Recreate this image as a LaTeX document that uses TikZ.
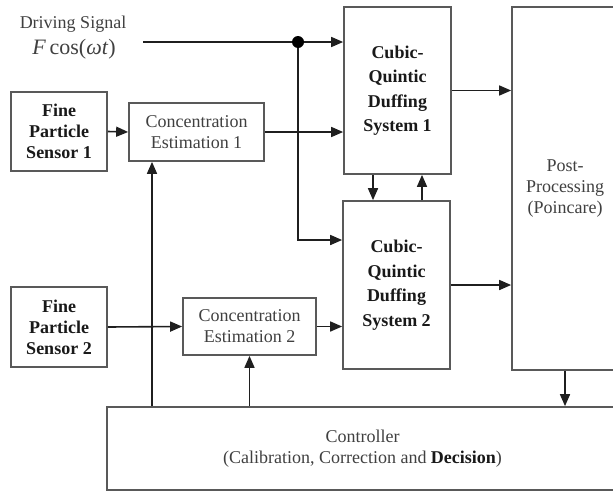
\documentclass[tikz,border=0pt]{standalone}
\usepackage{fontspec}
\setmainfont{Liberation Serif}
\usetikzlibrary{arrows.meta,calc}
\begin{document}
\begin{tikzpicture}[x=1pt,y=-1pt,
  box/.style={draw=black!65,line width=1.7pt,fill=white,inner sep=0pt,align=center,text=black!75},
  arr/.style={draw=black!88,line width=1.6pt,-{Triangle[length=12pt,width=10pt]}},
  txt/.style={font=\fontsize{18}{21}\selectfont},
  bold/.style={font=\fontsize{18}{21}\selectfont\bfseries,text=black!90},
  duff/.style={font=\fontsize{18}{24.5}\selectfont\bfseries,text=black!90}]
\clip (0,0) rectangle (613,493);
\fill[white] (0,0) rectangle (613,493);
% labels
\node[txt,text=black!75,align=center] (dsl) at (73,24) {Driving Signal};
\node[font=\fontsize{22}{24}\selectfont,text=black!75] (dsf) at (74,49) {\textit{F}\,cos(\textit{ωt})};
% boxes
\node[box,bold,minimum width=96pt,minimum height=79pt] (s1) at (59,131.5) {Fine\\Particle\\Sensor 1};
\node[box,txt,minimum width=135pt,minimum height=58pt] (c1) at (196.5,132) {Concentration\\Estimation 1};
\node[box,duff,minimum width=107pt,minimum height=167pt] (q1) at (397.5,90.5) {Cubic-\\Quintic\\Duffing\\System 1};
\node[box,duff,minimum width=107pt,minimum height=168pt] (q2) at (396.5,285) {Cubic-\\Quintic\\Duffing\\System 2};
\node[box,bold,minimum width=96pt,minimum height=80pt] (s2) at (59,327) {Fine\\Particle\\Sensor 2};
\node[box,txt,minimum width=133pt,minimum height=57pt] (c2) at (249.5,326.5) {Concentration\\Estimation 2};
\node[box,txt,minimum width=106pt,minimum height=363pt] (post) at (565,188.5) {Post-\\Processing\\(Poincare)};
\node[box,txt,minimum width=511pt,minimum height=83pt] (ctrl) at (362.5,448.5) {Controller\\(Calibration, Correction and \textbf{\textcolor{black!90}{Decision}})};
% driving signal
\coordinate (ds) at (143,42);
\coordinate (dot) at (298,42);
\coordinate (bend) at (298,240);
\draw[arr] (ds) -- (dot -| q1.west);
\draw[arr] (dot) -- (bend) -- (bend -| q2.west);
\fill[black] (dot) circle (6pt);
% signal paths
\draw[arr] (s1.east) -- (c1.west);
\draw[arr] (c1.east) -- (c1.east -| q1.west);
\draw[arr] (s2.east) -- (c2.west);
\draw[arr] (c2.east) -- (c2.east -| q2.west);
\draw[arr] (q1.east) -- (q1.east -| post.west);
\draw[arr] (q2.east) -- (q2.east -| post.west);
\draw[arr] ([xshift=-24.5pt]q1.south) -- ([xshift=-24.5pt]q1.south |- q2.north);
\draw[arr] ([xshift=25.5pt]q2.north) -- ([xshift=25.5pt]q2.north |- q1.south);
% controller feedback
\draw[arr] ([xshift=-44.5pt]c1.south |- ctrl.north) -- ([xshift=-44.5pt]c1.south);
\draw[arr] (c2.south |- ctrl.north) -- (c2.south);
\draw[arr] (post.south) -- (post.south |- ctrl.north);
\end{tikzpicture}
\end{document}
